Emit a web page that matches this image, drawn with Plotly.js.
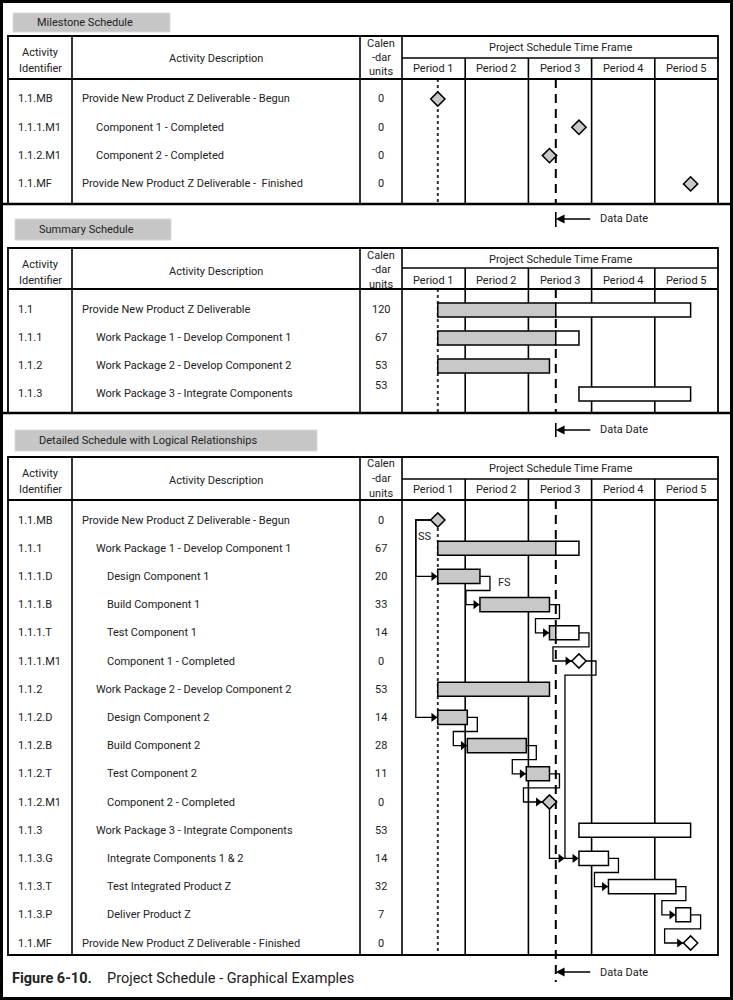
<!DOCTYPE html>
<html><head><meta charset="utf-8">
<script src="https://cdn.plot.ly/plotly-3.0.1.min.js"></script>
<style>html,body{margin:0;padding:0;background:#fff}#chart{width:733px;height:1000px}</style>
</head><body><div id="chart"></div>
<script>
// ================= DATA =================
const periods = ['Period 1', 'Period 2', 'Period 3', 'Period 4', 'Period 5'];
const periodLength = 30;          // calendar units per period
const dataDate = 73;              // calendar unit of the data date
const timeFrameTitle = 'Project Schedule Time Frame';
const headerId = ['Activity', 'Identifier'];
const headerDesc = 'Activity Description';
const headerUnits = ['Calen', '-dar', 'units'];

// Milestone schedule
const msIds = ['1.1.MB', '1.1.1.M1', '1.1.2.M1', '1.1.MF'];
const msDesc = ['Provide New Product Z Deliverable - Begun', 'Component 1 - Completed',
  'Component 2 - Completed', 'Provide New Product Z Deliverable -  Finished'];
const msUnits = [0, 0, 0, 0];
const msLevel = [0, 1, 1, 0];
const msStart = [17, 84, 70, 137];

// Summary schedule
const sumIds = ['1.1', '1.1.1', '1.1.2', '1.1.3'];
const sumDesc = ['Provide New Product Z Deliverable', 'Work Package 1 - Develop Component 1',
  'Work Package 2 - Develop Component 2', 'Work Package 3 - Integrate Components'];
const sumUnits = [120, 67, 53, 53];
const sumLevel = [0, 1, 1, 1];
const sumStart = [17, 17, 17, 84];

// Detailed schedule
const detIds = ['1.1.MB', '1.1.1', '1.1.1.D', '1.1.1.B', '1.1.1.T', '1.1.1.M1', '1.1.2', '1.1.2.D',
  '1.1.2.B', '1.1.2.T', '1.1.2.M1', '1.1.3', '1.1.3.G', '1.1.3.T', '1.1.3.P', '1.1.MF'];
const detDesc = ['Provide New Product Z Deliverable - Begun', 'Work Package 1 - Develop Component 1',
  'Design Component 1', 'Build Component 1', 'Test Component 1', 'Component 1 - Completed',
  'Work Package 2 - Develop Component 2', 'Design Component 2', 'Build Component 2', 'Test Component 2',
  'Component 2 - Completed', 'Work Package 3 - Integrate Components', 'Integrate Components 1 & 2',
  'Test Integrated Product Z', 'Deliver Product Z', 'Provide New Product Z Deliverable - Finished'];
const detUnits = [0, 67, 20, 33, 14, 0, 53, 14, 28, 11, 0, 53, 14, 32, 7, 0];
const detLevel = [0, 1, 2, 2, 2, 2, 1, 2, 2, 2, 2, 1, 2, 2, 2, 0];
const detStart = [17, 17, 17, 37, 70, 84, 17, 17, 31, 59, 70, 84, 84, 98, 130, 137];

// Logical relationships
const linkFrom = ['1.1.MB', '1.1.MB', '1.1.1.D', '1.1.1.B', '1.1.1.T', '1.1.1.M1', '1.1.2.M1',
  '1.1.2.D', '1.1.2.B', '1.1.2.T', '1.1.3.G', '1.1.3.T', '1.1.3.P'];
const linkTo = ['1.1.1.D', '1.1.2.D', '1.1.1.B', '1.1.1.T', '1.1.1.M1', '1.1.3.G', '1.1.3.G',
  '1.1.2.B', '1.1.2.T', '1.1.2.M1', '1.1.3.T', '1.1.3.P', '1.1.MF'];
const linkType = ['SS', 'SS', 'FS', 'FS', 'FS', 'FS', 'FSV', 'FS', 'FS', 'FS', 'FS', 'FS', 'FS'];
const linkLabel = ['SS', '', 'FS', '', '', '', '', '', '', '', '', '', ''];

const sectionTitles = ['Milestone Schedule', 'Summary Schedule', 'Detailed Schedule with Logical Relationships'];
const figureNumber = 'Figure 6-10.';
const figureTitle = 'Project Schedule - Graphical Examples';
const dataDateLabel = 'Data Date';

// ================= LAYOUT CONSTANTS (pixels) =================
const W = 733, H = 1000;
const X_L = 8, X_C1 = 72, X_C2 = 360, X_C3 = 402, X_R = 718;
const DAY_MAX = periods.length * periodLength;
const PXD = (X_R - X_C3) / DAY_MAX;
const GRAY = '#c8c8c8';
const INK = '#222222';
const FONT = 'Roboto, "Liberation Sans", Arial, sans-serif';
const FS_TXT = 11;
const INDENT = [82, 96, 107];
const LSHIFT = -2;

const px2x = p => p / W;
const px2y = p => 1 - p / H;
const D = p => p / PXD;

const shapes = [], annotations = [], traces = [];

function line(x0, y0, x1, y1, w, extra) {
  shapes.push(Object.assign({type: 'line', xref: 'paper', yref: 'paper',
    x0: px2x(x0), x1: px2x(x1), y0: px2y(y0), y1: px2y(y1),
    line: {color: '#000', width: w}}, extra || {}));
}
function vlineDay(d, y0, y1, lineOpts, layer) {
  shapes.push({type: 'line', xref: 'x', yref: 'paper', x0: d, x1: d, y0: px2y(y0), y1: px2y(y1),
    line: lineOpts, layer: layer || 'below'});
}
function text(x, y, s, anchor, opts) {
  annotations.push(Object.assign({xref: 'paper', yref: 'paper', x: px2x(x), y: px2y(y), text: s,
    showarrow: false, xanchor: anchor || 'center', yanchor: 'middle', xshift: anchor === 'left' ? LSHIFT : 0,
    font: {family: FONT, size: FS_TXT, color: INK}}, opts || {}));
}

// outer frame & section separators
shapes.push({type: 'rect', xref: 'paper', yref: 'paper', x0: px2x(1.5), x1: px2x(W - 1.5),
  y0: px2y(1.5), y1: px2y(H - 1.5), line: {color: '#000', width: 3}});

const sections = [
  {axis: 'y', ax: 'yaxis', box: [13, 13, 170, 32], top: 36, mid: 58, hb: 79, bot: 204, y0: 99, sp: 28.3,
   ids: msIds, desc: msDesc, units: msUnits, level: msLevel, ddEnd: 204, tick: [212, 227], arrowY: 219, dotTop: 79},
  {axis: 'y2', ax: 'yaxis2', box: [15, 219, 171, 240], top: 248, mid: 268, hb: 289, bot: 413, y0: 310, sp: 28,
   ids: sumIds, desc: sumDesc, units: sumUnits, level: sumLevel, ddEnd: 413, tick: [423, 437], arrowY: 430, dotTop: 289},
  {axis: 'y3', ax: 'yaxis3', box: [15, 430, 317, 451], top: 457, mid: 479, hb: 500, bot: 955, y0: 520, sp: 28.2,
   ids: detIds, desc: detDesc, units: detUnits, level: detLevel, ddEnd: 982, tick: null, arrowY: 972, dotTop: 528}
];

const layout = {
  width: W, height: H, margin: {l: 0, r: 0, t: 0, b: 0},
  paper_bgcolor: '#fff', plot_bgcolor: 'rgba(0,0,0,0)', showlegend: false, barmode: 'overlay',
  xaxis: {domain: [px2x(X_C3), px2x(X_R)], range: [0, DAY_MAX], visible: false, fixedrange: true, anchor: 'y'}
};

line(0, 204, W, 204, 2.5);
line(0, 413, W, 413, 2.5);

sections.forEach((s, si) => {
  layout[s.ax] = {domain: [px2y(s.bot), px2y(s.hb)], range: [(s.bot - s.y0) / s.sp, (s.hb - s.y0) / s.sp],
    visible: false, fixedrange: true, anchor: 'x'};
  // section label box
  shapes.push({type: 'rect', xref: 'paper', yref: 'paper', x0: px2x(s.box[0]), x1: px2x(s.box[2]),
    y0: px2y(s.box[3]), y1: px2y(s.box[1]), fillcolor: '#c6c6c6', line: {color: '#dadada', width: 1}, layer: 'below'});
  text(s.box[0] + 24, (s.box[1] + s.box[3]) / 2, sectionTitles[si], 'left');
  // table grid
  const T = s.top;
  shapes.push({type: 'rect', xref: 'paper', yref: 'paper', x0: px2x(X_L), x1: px2x(X_R),
    y0: px2y(s.bot), y1: px2y(T), line: {color: '#000', width: 1.8}});
  [X_C1, X_C2, X_C3].forEach(x => line(x, T, x, s.bot, 1.6));
  line(X_C3, s.mid, X_R, s.mid, 1.6);
  line(X_L, s.hb, X_R, s.hb, 1.8);
  for (let i = 1; i < periods.length; i++) vlineDay(i * periodLength, s.mid, s.bot, {color: '#000', width: 1.6});
  // headers
  text((X_L + X_C1) / 2, T + 16, headerId[0]);
  text((X_L + X_C1) / 2, T + 32, headerId[1]);
  text((X_C1 + X_C2) / 2, T + 23, headerDesc);
  headerUnits.forEach((h, k) => text((X_C2 + X_C3) / 2, T + 7 + 14.5 * k, h));
  text((X_C3 + X_R) / 2, T + 11, timeFrameTitle);
  periods.forEach((p, k) => annotations.push({xref: 'x', yref: 'paper', x: (k + 0.5) * periodLength,
    y: px2y(T + 32), text: p, showarrow: false, xanchor: 'center', yanchor: 'middle',
    font: {family: FONT, size: FS_TXT, color: INK}}));
  // rows
  s.ids.forEach((id, r) => {
    const base = {xref: 'paper', yref: s.axis, y: r, showarrow: false, yanchor: 'middle',
      font: {family: FONT, size: FS_TXT, color: INK}};
    annotations.push(Object.assign({}, base, {x: px2x(18), xanchor: 'left', xshift: LSHIFT, text: id}));
    annotations.push(Object.assign({}, base, {x: px2x(INDENT[s.level[r]]), xanchor: 'left', xshift: LSHIFT, text: s.desc[r]}));
    annotations.push(Object.assign({}, base, {x: px2x((X_C2 + X_C3) / 2), xanchor: 'center',
      text: String(s.units[r]), yshift: (si === 1 && r === 3) ? 8 : 0}));
  });
  // data date line, tick and arrow
  vlineDay(dataDate, s.hb, s.ddEnd, {color: '#000', width: 2, dash: '9px,6px'});
  if (s.tick) vlineDay(dataDate, s.tick[0], s.tick[1], {color: '#000', width: 1.6}, 'above');
  annotations.push({xref: 'x', yref: 'paper', x: dataDate, y: px2y(s.arrowY), ax: 36, ay: 0, text: '',
    showarrow: true, arrowhead: 2, arrowsize: 1.1, arrowwidth: 1.6, arrowcolor: '#000', standoff: 0});
  text(600, s.arrowY, dataDateLabel, 'left');
  // project start dotted line
  vlineDay(detStart[0], s.dotTop, s.bot, {color: '#333', width: 2, dash: 'dot'});
});

// ================= MARKS =================
function barTraces(axis, starts, units) {
  const g = {y: [], x: [], base: []}, w = {y: [], x: [], base: []};
  starts.forEach((st, i) => {
    const en = st + units[i];
    if (units[i] <= 0) return;
    if (st < dataDate) { g.y.push(i); g.base.push(st); g.x.push(Math.min(en, dataDate) - st); }
    if (en > dataDate) { const b = Math.max(st, dataDate); w.y.push(i); w.base.push(b); w.x.push(en - b); }
  });
  [[g, GRAY], [w, '#ffffff']].forEach(([d, c]) => traces.push({type: 'bar', orientation: 'h', xaxis: 'x', yaxis: axis,
    y: d.y, x: d.x, base: d.base, width: 0.5, marker: {color: c, line: {color: '#000', width: 1.5}}, hoverinfo: 'skip'}));
}
function diamonds(axis, starts, units, fillFn) {
  const xs = [], ys = [], cs = [];
  starts.forEach((st, i) => { if (units[i] === 0) { xs.push(st); ys.push(i); cs.push(fillFn(st)); } });
  traces.push({type: 'scatter', mode: 'markers', xaxis: 'x', yaxis: axis, x: xs, y: ys, hoverinfo: 'skip',
    marker: {symbol: 'diamond', size: 11, color: cs, line: {color: '#000', width: 1.5}}, cliponaxis: false});
}

// milestone section
diamonds('y', msStart, msUnits, () => GRAY);
// summary section
barTraces('y2', sumStart, sumUnits);
// detailed section
barTraces('y3', detStart, detUnits);

// links
const SP3 = sections[2].sp;
const idx = id => detIds.indexOf(id);
const isMs = i => detUnits[i] === 0;
const lx = [], ly = [], ax = [], ay = [];
linkFrom.forEach((f, k) => {
  const a = idx(f), b = idx(linkTo[k]);
  const sA = detStart[a], eA = sA + detUnits[a], sB = detStart[b];
  let pts, tip = sB - (isMs(b) ? D(7) : 0);
  if (linkType[k] === 'SS') {
    const x0 = sA - (isMs(a) ? D(7) : 0), drop = sA - D(22);
    pts = [[x0, a], [drop, a], [drop, b], [tip, b]];
    if (linkLabel[k]) annotations.push({xref: 'x', yref: 'y3', x: drop, y: a + 0.6, xanchor: 'left', xshift: 0,
      yanchor: 'middle', text: linkLabel[k], showarrow: false, font: {family: FONT, size: FS_TXT, color: INK}});
  } else if (linkType[k] === 'FSV') {
    tip = sB - D(14);
    pts = [[eA, a + 7 / SP3], [eA, b], [tip, b]];
  } else {
    const x0 = eA + (isMs(a) ? D(7) : 0), right = x0 + D(10);
    const drop = sB - D(14) - (isMs(b) ? D(12) : 0), mid = a + 0.5;
    pts = [[x0, a], [right, a], [right, mid], [drop, mid], [drop, b], [tip, b]];
    if (linkLabel[k]) annotations.push({xref: 'x', yref: 'y3', x: right, y: a + 0.22, xanchor: 'left', xshift: 6,
      yanchor: 'middle', text: linkLabel[k], showarrow: false, font: {family: FONT, size: FS_TXT, color: INK}});
  }
  pts.forEach(p => { lx.push(p[0]); ly.push(p[1]); });
  lx.push(null); ly.push(null);
  ax.push(tip - D(4.4)); ay.push(b);
});
traces.push({type: 'scatter', mode: 'lines', xaxis: 'x', yaxis: 'y3', x: lx, y: ly, hoverinfo: 'skip',
  line: {color: '#000', width: 1.3}, connectgaps: false});
traces.push({type: 'scatter', mode: 'markers', xaxis: 'x', yaxis: 'y3', x: ax, y: ay, hoverinfo: 'skip',
  marker: {symbol: 'triangle-right', size: 8, color: '#000'}});
diamonds('y3', detStart, detUnits, st => (st <= dataDate ? GRAY : '#ffffff'));

// figure caption
text(12, 978, '<b>' + figureNumber + '</b>', 'left', {font: {family: FONT, size: 14.5, color: INK}});
text(107, 978, figureTitle, 'left', {font: {family: FONT, size: 14.5, color: INK}});

layout.shapes = shapes;
layout.annotations = annotations;
Plotly.newPlot('chart', traces, layout, {displayModeBar: false, staticPlot: true});
</script></body></html>
